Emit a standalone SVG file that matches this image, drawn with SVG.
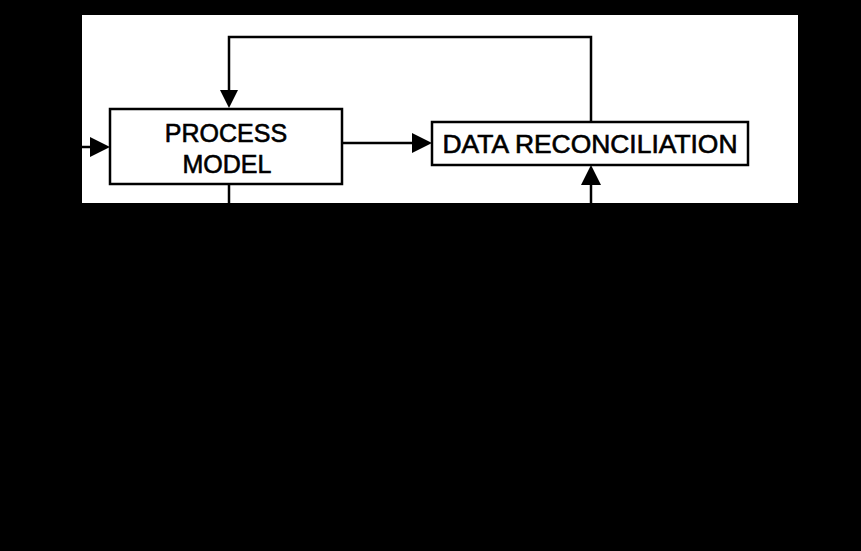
<svg xmlns="http://www.w3.org/2000/svg" width="861" height="551" viewBox="0 0 861 551">
<defs>
<style>
.box{fill:#fff;stroke:#000;stroke-width:2.5}
.lbl{font-family:"Liberation Sans",Arial,sans-serif;font-size:25px;fill:#000;stroke:#000;stroke-width:0.6;text-anchor:middle}
.ln{fill:none;stroke:#000;stroke-width:2.5}
.hd{fill:#000}
</style>
</defs>
<rect x="0" y="0" width="861" height="551" fill="#000"/>
<rect x="82" y="15" width="716" height="188" fill="#fff"/>
<g id="connectors">
<path class="ln" d="M591,122 V37 H229 V92"/>
<path class="hd" d="M220,90 L238,90 L229,108 Z"/>
<path class="ln" d="M82,147 H92"/>
<path class="hd" d="M90,137 L110,147 L90,157 Z"/>
<path class="ln" d="M342,143 H414"/>
<path class="hd" d="M412,133 L432,143 L412,153 Z"/>
<path class="ln" d="M591,203 V183"/>
<path class="hd" d="M581,185 L591,165 L601,185 Z"/>
<path class="ln" d="M229,184 V203"/>
</g>
<g id="process-model">
<rect class="box" x="110" y="109" width="232" height="75"/>
<text class="lbl" x="226" y="142">PROCESS</text>
<text class="lbl" x="227" y="173">MODEL</text>
</g>
<g id="data-reconciliation">
<rect class="box" x="432" y="122" width="316" height="43"/>
<text class="lbl" x="590" y="153" textLength="295" lengthAdjust="spacingAndGlyphs">DATA RECONCILIATION</text>
</g>
</svg>
